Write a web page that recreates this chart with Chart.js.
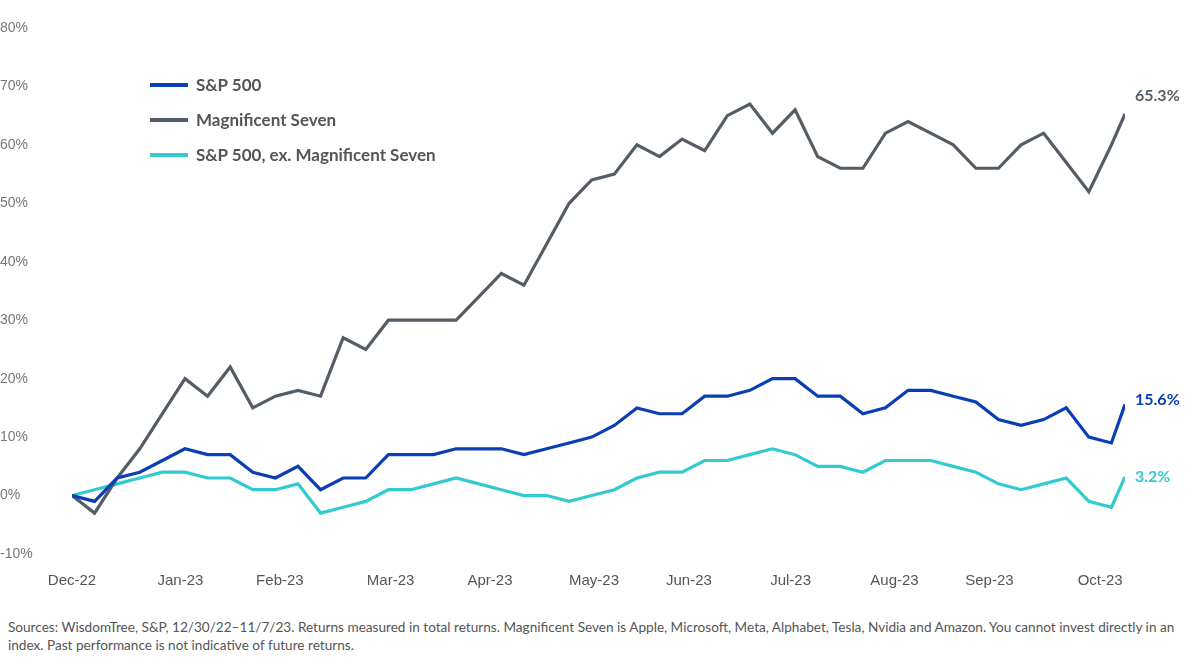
<!DOCTYPE html>
<html><head><meta charset="utf-8">
<script src="https://cdn.jsdelivr.net/npm/chart.js@4"></script>
<style>
body{margin:0;background:#fff;font-family:Lato,"Open Sans",sans-serif;}
#wrap{position:relative;width:1200px;height:600px;}
#legend{position:absolute;left:150px;top:67px;font-size:17px;font-weight:bold;color:#555;}
#legend div{height:35px;display:flex;align-items:center;}
#legend span{display:inline-block;width:38px;height:4px;margin-right:8px;}
#note{font-size:13.6px;color:#555;padding:18px 10px 0 8px;line-height:18px;}
</style></head><body>
<div id="wrap"><canvas id="c" width="1200" height="600"></canvas>
<div id="legend">
<div><span style="background:#0a3eb3"></span>S&amp;P 500</div>
<div><span style="background:#545d66"></span>Magnificent Seven</div>
<div><span style="background:#33c9d0"></span>S&amp;P 500, ex. Magnificent Seven</div>
</div></div>
<div id="note">Sources: WisdomTree, S&amp;P, 12/30/22–11/7/23. Returns measured in total returns. Magnificent Seven is Apple, Microsoft, Meta, Alphabet, Tesla, Nvidia and Amazon. You cannot invest directly in an index. Past performance is not indicative of future returns.</div>
<script>
const monthLabels = ["Dec-22","Jan-23","Feb-23","Mar-23","Apr-23","May-23","Jun-23","Jul-23","Aug-23","Sep-23","Oct-23"];
const monthPos = [0,4.8,9.2,14.1,18.5,23.1,27.3,31.8,36.4,40.6,45.5];
const weeks = [0,1,2,3,4,5,6,7,8,9,10,11,12,13,14,15,16,17,18,19,20,21,22,23,24,25,26,27,28,29,30,31,32,33,34,35,36,37,38,39,40,41,42,43,44,45,46,46.6];
const mag7 = [0,-3,3,8,14,20,17,22,15,17,18,17,27,25,30,30,30,30,34,38,36,43,50,54,55,60,58,61,59,65,67,62,66,58,56,56,62,64,62,60,56,56,60,62,57,52,60,65.3];
const spx = [0,-1,3,4,6,8,7,7,4,3,5,1,3,3,7,7,7,8,8,8,7,8,9,10,12,15,14,14,17,17,18,20,20,17,17,14,15,18,18,17,16,13,12,13,15,10,9,15.6];
const exMag = [0,1,2,3,4,4,3,3,1,1,2,-3,-2,-1,1,1,2,3,2,1,0,0,-1,0,1,3,4,4,6,6,7,8,7,5,5,4,6,6,6,5,4,2,1,2,3,-1,-2,3.2];

const pts = arr => arr.map((v, i) => ({x: weeks[i], y: v}));
const endLabels = {
  id: "endLabels",
  afterDatasetsDraw(chart) {
    const ctx = chart.ctx;
    ctx.save();
    ctx.font = "bold 16px Lato";
    ctx.textBaseline = "middle";
    chart.data.datasets.forEach((ds, i) => {
      const el = chart.getDatasetMeta(i).data.at(-1);
      ctx.fillStyle = ds.borderColor;
      ctx.fillText(ds.data.at(-1).y.toFixed(1) + "%", el.x + 10, el.y + (ds.dy || 0));
    });
    ctx.restore();
  }
};
new Chart(document.getElementById("c"), {
  type: "line",
  data: { datasets: [
    {data: pts(spx), borderColor: "#0a3eb3", borderWidth: 3.2, dy: -5},
    {data: pts(mag7), borderColor: "#545d66", borderWidth: 3.2, dy: -18},
    {data: pts(exMag), borderColor: "#33c9d0", borderWidth: 3.2}
  ]},
  options: {
    responsive: false, animation: false,
    layout: {padding: {top: 28, right: 75, left: 0, bottom: 0}},
    elements: {point: {radius: 0}, line: {tension: 0}},
    plugins: {legend: {display: false}, tooltip: {enabled: false}},
    scales: {
      x: {type: "linear", min: 0, max: 46.6, grid: {display: false},
        border: {display: false},
        afterBuildTicks: s => { s.ticks = monthPos.map(v => ({value: v})); },
        ticks: {color: "#555", font: {size: 15}, maxRotation: 0,
          callback: (v, i) => monthLabels[i], padding: 10}},
      y: {min: -10, max: 80, grid: {display: false}, border: {display: false},
        afterFit: s => { s.width = 72; },
        ticks: {stepSize: 10, color: "#777", font: {size: 14}, crossAlign: "far",
          padding: 0, callback: v => v + "%"}}
    }
  },
  plugins: [endLabels]
});
</script></body></html>
